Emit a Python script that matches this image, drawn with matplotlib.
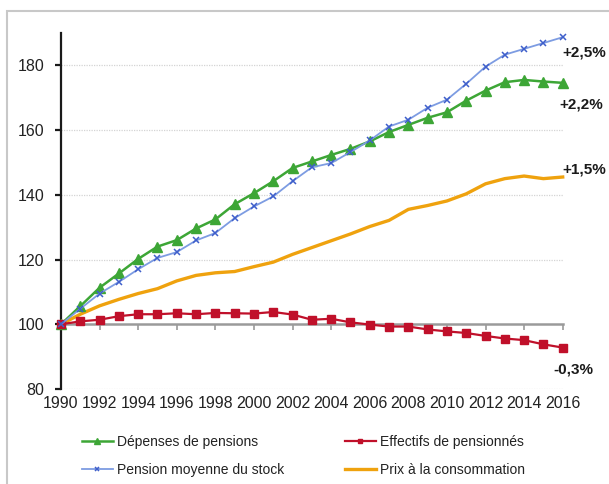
import numpy as np
import matplotlib
matplotlib.use('Agg')
import matplotlib.pyplot as plt
from matplotlib.patches import Rectangle

plt.rcParams['font.family'] = ['Liberation Sans', 'DejaVu Sans']

years = list(range(1990, 2017))

depenses = [100, 105.6, 111.3, 115.7, 120.2, 124.0, 126.0, 129.6, 132.4, 137.1,
            140.5, 144.2, 148.3, 150.3, 152.3, 154.2, 156.5, 159.4, 161.6, 163.8,
            165.5, 169.1, 172.2, 174.8, 175.5, 175.0, 174.6]
pension_moy = [100, 104.8, 109.5, 113.1, 117.0, 120.5, 122.3, 125.9, 128.2, 132.8,
               136.4, 139.5, 144.2, 148.5, 149.8, 153.2, 156.8, 161.1, 163.2, 166.9,
               169.4, 174.3, 179.6, 183.3, 185.1, 186.9, 188.7]
effectifs = [100, 100.9, 101.4, 102.5, 103.1, 103.1, 103.4, 103.1, 103.5, 103.4,
             103.3, 103.8, 103.0, 101.4, 101.7, 100.6, 99.9, 99.3, 99.3, 98.4,
             97.8, 97.3, 96.4, 95.6, 95.1, 93.8, 92.8]
prix = [100, 103.1, 105.7, 107.7, 109.5, 111.0, 113.4, 115.1, 115.9, 116.3,
        117.8, 119.2, 121.6, 123.7, 125.8, 127.9, 130.2, 132.1, 135.5, 136.7,
        138.1, 140.3, 143.4, 145.0, 145.8, 145.0, 145.5]

labels = ['Dépenses de pensions', 'Pension moyenne du stock',
          'Effectifs de pensionnés', 'Prix à la consommation']

end_labels = ['+2,5%', '+2,2%', '+1,5%', '-0,3%']
end_label_x = [2016.0, 2015.85, 2016.0, 2015.5]
end_label_y = [184.0, 168.0, 147.8, 86.0]

yticks = [80, 100, 120, 140, 160, 180]
grid_levels = [80, 120, 140, 160, 180]
xticks = list(range(1990, 2017, 2))

fig = plt.figure(figsize=(6.09, 4.84), dpi=100)
fig.patches.append(Rectangle((7 / 609, -0.2), 1.2, (484 - 11) / 484 + 0.2,
                             transform=fig.transFigure, fill=False,
                             edgecolor='#c8c8c8', linewidth=1.5))

ax = fig.add_axes([61 / 609, 95 / 484, 501.7 / 609, 356 / 484])
ax.set_xlim(1990, 2016)
ax.set_ylim(80, 190)

ax.hlines(grid_levels, 1990, 2016, colors='#d4d4d4', linestyles=(0, (1, 1)),
          linewidth=0.9, zorder=1)

c_green = '#3DA636'
c_blue_line = '#7D9CE2'
c_blue_mark = '#3F5FCB'
c_red = '#C0102A'
c_orange = '#EFA20E'

l1, = ax.plot(years, depenses, color=c_green, lw=1.8, marker='^', ms=7.5,
              mfc=c_green, mec=c_green, zorder=4, clip_on=False)
l2, = ax.plot(years, pension_moy, color=c_blue_line, lw=1.3, marker='x', ms=4,
              mec=c_blue_mark, mew=1.1, zorder=5, clip_on=False)
l3, = ax.plot(years, effectifs, color=c_red, lw=1.6, marker='s', ms=5.5,
              mfc=c_red, mec=c_red, zorder=4, clip_on=False)
l4, = ax.plot(years, prix, color=c_orange, lw=2.4, zorder=3, clip_on=False)

for txt, x, y in zip(end_labels, end_label_x, end_label_y):
    ax.text(x, y, txt, ha='left', va='center', fontsize=11, fontweight='bold',
            color='#1a1a1a', clip_on=False)

# y axis
for s in ['top', 'right', 'bottom']:
    ax.spines[s].set_visible(False)
ax.spines['left'].set_linewidth(1.6)
ax.spines['left'].set_color('#1a1a1a')
ax.set_yticks(yticks)
ax.tick_params(axis='y', direction='out', length=4, width=1.6, color='#1a1a1a',
               labelsize=11.5, labelcolor='#222222', pad=8)

# x labels sit below 80, axis line drawn at 100
ax.set_xticks(xticks)
ax.tick_params(axis='x', length=0, labelsize=11.5, labelcolor='#222222', pad=5)

sec = ax.secondary_xaxis((100 - 80) / (190 - 80))
sec.set_xticks(xticks)
sec.set_xticklabels([])
sec.spines['bottom'].set_color('#9a9a9a')
sec.spines['bottom'].set_linewidth(1.8)
sec.tick_params(axis='x', direction='out', length=4, width=1.2, color='#9a9a9a')

leg = fig.legend([l1, l2, l3, l4], labels, ncol=2, loc='upper left',
                 bbox_to_anchor=(82 / 609, 1 - 435 / 484), frameon=False,
                 fontsize=10, handlelength=2.2, handletextpad=0.3,
                 columnspacing=4.4, labelspacing=1.0, markerscale=0.6,
                 borderpad=0, borderaxespad=0)
for t in leg.get_texts():
    t.set_color('#222222')

fig.savefig('out.png', dpi=100)
